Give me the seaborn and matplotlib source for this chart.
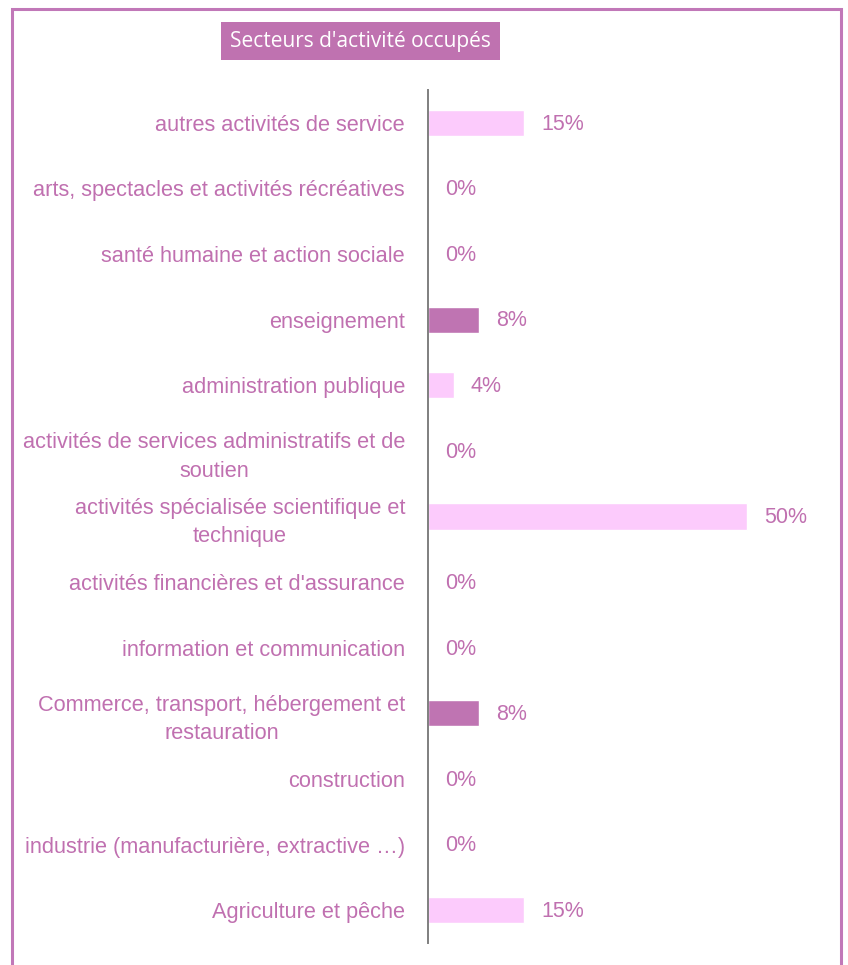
import pandas as pd
import matplotlib.pyplot as plt
import matplotlib.patches as patches
import seaborn as sns

# Data, listed from top to bottom as in the chart
secteurs = [
    "autres activités de service",
    "arts, spectacles et activités récréatives",
    "santé humaine et action sociale",
    "enseignement",
    "administration publique",
    "activités de services administratifs et de\nsoutien",
    "activités spécialisée scientifique et\ntechnique",
    "activités financières et d'assurance",
    "information et communication",
    "Commerce, transport, hébergement et\nrestauration",
    "construction",
    "industrie (manufacturière, extractive …)",
    "Agriculture et pêche",
]
pourcentages = [15, 0, 0, 8, 4, 0, 50, 0, 0, 8, 0, 0, 15]
teintes = ["clair", "clair", "clair", "fonce", "clair", "clair", "clair",
           "clair", "clair", "fonce", "clair", "clair", "clair"]

df = pd.DataFrame({"Secteur": secteurs, "Pct": pourcentages, "Teinte": teintes})

sns.set_theme(style="white")
plt.rcParams['font.family'] = ['Liberation Sans', 'DejaVu Sans']

violet = "#c070b0"
couleurs = {"clair": "#fccbfc", "fonce": "#bf74b2"}

fig = plt.figure(figsize=(8.48, 9.65), dpi=100)
ax = fig.add_axes([428 / 848, 1 - 943 / 965, 55 * 6.38 / 848, 853 / 965])

sns.barplot(data=df, y="Secteur", x="Pct", hue="Teinte", palette=couleurs,
            orient="h", width=0.4, dodge=False, saturation=1, legend=False, ax=ax)

ax.set_xlim(0, 55)
ax.set_ylim(len(secteurs) - 0.5, -0.5)
ax.set_xlabel("")
ax.set_ylabel("")
ax.set_xticks([])
ax.tick_params(axis="y", length=0, pad=16.5, labelsize=15.7, labelcolor=violet)
for lab in ax.get_yticklabels():
    lab.set_multialignment("center")
    lab.set_linespacing(1.45)

for s in ["top", "right", "bottom"]:
    ax.spines[s].set_visible(False)
ax.spines["left"].set_color("#7f7f7f")
ax.spines["left"].set_linewidth(1.4)

# value labels
for i, v in enumerate(pourcentages):
    ax.text(v + 2.7, i + 0.02, f"{v}%", va="center", ha="left", fontsize=15.5, color=violet)

# outer frame
fig.add_artist(patches.Rectangle((12 / 848, -0.02), (841 - 12) / 848, 1.02 - 9 / 965,
                                 transform=fig.transFigure, fill=False,
                                 edgecolor="#c178b8", linewidth=2.2))

# title box
fig.add_artist(patches.Rectangle((221 / 848, 1 - 60 / 965), (500 - 221) / 848, 38 / 965,
                                 transform=fig.transFigure, facecolor="#bf72b0",
                                 edgecolor="none"))
fig.text(360.5 / 848, 1 - 42 / 965, "Secteurs d'activité occupés", ha="center", va="center",
         color="white", fontsize=15, family=["Open Sans", "DejaVu Sans"])

plt.savefig("out.png", dpi=100)
